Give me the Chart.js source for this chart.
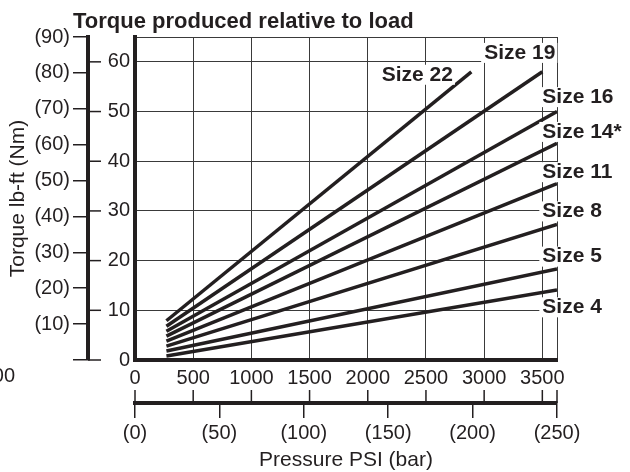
<!DOCTYPE html>
<html>
<head>
<meta charset="utf-8">
<script src="https://cdn.jsdelivr.net/npm/chart.js@4"></script>
<style>
  body { margin: 0; background: #fff; }
</style>
</head>
<body>
<canvas id="torqueChart" width="630" height="472"></canvas>
<script>
// one straight line per actuator size
const sizes = ['Size 4', 'Size 5', 'Size 8', 'Size 11', 'Size 14*', 'Size 16', 'Size 19', 'Size 22'];
const startPsi = [270, 270, 270, 270, 270, 270, 270, 270];
const startTorque = [0.8, 1.8, 2.8, 3.8, 4.8, 5.8, 6.8, 7.9];
const endPsi = [3626, 3626, 3626, 3626, 3626, 3626, 3500, 2890];
const endTorque = [14.1, 18.3, 27.3, 35.5, 43.6, 50.0, 58.0, 58.0];

// axis ticks (psi max = 250 bar)
const psiTicks = [0, 500, 1000, 1500, 2000, 2500, 3000, 3500, 3626];
const psiLabels = ['0', '500', '1000', '1500', '2000', '2500', '3000', '3500', ''];
const barTicks = [0, 50, 100, 150, 200, 250];
const barLabels = ['(0)', '(50)', '(100)', '(150)', '(200)', '(250)'];
const lbftTicks = [0, 10, 20, 30, 40, 50, 60, 65];
const lbftLabels = ['0', '10', '20', '30', '40', '50', '60', ''];
const nmTicks = [0, 10, 20, 30, 40, 50, 60, 70, 80, 90];
const nmLabels = ['', '(10)', '(20)', '(30)', '(40)', '(50)', '(60)', '(70)', '(80)', '(90)'];

// where each size name sits, in psi / lb-ft
const labelAt = [
    { x: 3500, y: 10.6 },
    { x: 3500, y: 20.8 },
    { x: 3500, y: 29.9 },
    { x: 3500, y: 37.8 },
    { x: 3500, y: 45.9 },
    { x: 3500, y: 52.9 },
    { x: 3000, y: 61.8 },
    { x: 2120, y: 57.4 }
];

const ink = '#231f20';
const family = '"Liberation Sans", Arial, Helvetica, sans-serif';
Chart.defaults.font.family = family;
Chart.defaults.font.size = 20;
Chart.defaults.color = ink;

const setTicks = (values) => (scale) => { scale.ticks = values.map(v => ({ value: v })); };

const extras = {
    id: 'extras',
    afterDraw(chart) {
        const { ctx, scales } = chart;
        ctx.save();
        ctx.strokeStyle = ink;
        ctx.lineWidth = 1.5;
        // lb-ft marks on the right side of the Nm axis line
        lbftTicks.slice(0, -1).forEach(v => {
            const y = scales.y.getPixelForValue(v);
            ctx.beginPath();
            ctx.moveTo(scales.nm.right, y);
            ctx.lineTo(scales.nm.right + 13, y);
            ctx.stroke();
        });
        // psi marks standing on the bar axis line
        psiTicks.forEach(v => {
            const x = scales.x.getPixelForValue(v);
            ctx.beginPath();
            ctx.moveTo(x, scales.bar.top);
            ctx.lineTo(x, scales.bar.top - 13);
            ctx.stroke();
        });
        // size names on white patches
        ctx.font = 'bold 21px ' + family;
        ctx.textBaseline = 'middle';
        sizes.forEach((name, i) => {
            const x = scales.x.getPixelForValue(labelAt[i].x);
            const y = scales.y.getPixelForValue(labelAt[i].y);
            const w = ctx.measureText(name).width;
            ctx.fillStyle = '#fff';
            ctx.fillRect(x - 3, y - 10, w + 5, 20);
            ctx.fillStyle = ink;
            ctx.fillText(name, x, y);
        });
        // chart title
        ctx.textBaseline = 'alphabetic';
        ctx.font = 'bold 22px ' + family;
        ctx.fillText('Torque produced relative to load', 73, 28);
        // cut-off label at the left edge
        ctx.font = '20px ' + family;
        ctx.textAlign = 'right';
        ctx.textBaseline = 'middle';
        ctx.fillText('00', 15, 376);
        ctx.restore();
    }
};

const ctx = document.getElementById('torqueChart').getContext('2d');
new Chart(ctx, {
    type: 'line',
    data: {
        datasets: sizes.map((name, i) => ({
            label: name,
            data: [{ x: startPsi[i], y: startTorque[i] }, { x: endPsi[i], y: endTorque[i] }],
            borderColor: ink,
            borderWidth: 3.5,
            pointRadius: 0,
            fill: false,
            tension: 0
        }))
    },
    options: {
        responsive: false,
        animation: false,
        events: [],
        layout: { padding: { top: 37, right: 73, bottom: 0, left: 0 } },
        plugins: {
            legend: { display: false },
            tooltip: { enabled: false }
        },
        scales: {
            x: {
                type: 'linear',
                position: 'bottom',
                weight: 0,
                min: 0,
                max: 3626,
                afterBuildTicks: setTicks(psiTicks),
                afterFit: (s) => { s.height = 43; },
                ticks: { autoSkip: false, maxRotation: 0, minRotation: 0, padding: 6, callback: (v, i) => psiLabels[i] },
                grid: { color: '#3a3a3a', lineWidth: 1, drawTicks: false },
                border: { color: ink, width: 4 }
            },
            bar: {
                type: 'linear',
                position: 'bottom',
                weight: 1,
                min: 0,
                max: 250,
                afterBuildTicks: setTicks(barTicks),
                afterFit: (s) => { s.height = 69; },
                ticks: { autoSkip: false, maxRotation: 0, minRotation: 0, padding: 3, callback: (v, i) => barLabels[i] },
                grid: { drawOnChartArea: false, tickLength: 15, color: ink, lineWidth: 1.5 },
                border: { color: ink, width: 4 },
                title: { display: true, text: 'Pressure PSI (bar)', font: { size: 21 }, padding: { top: 0, bottom: -1 } }
            },
            y: {
                type: 'linear',
                position: 'left',
                weight: 0,
                min: 0,
                max: 65,
                afterBuildTicks: setTicks(lbftTicks),
                afterFit: (s) => { s.width = 47; },
                ticks: { autoSkip: false, padding: 5, callback: (v, i) => lbftLabels[i] },
                grid: { color: '#3a3a3a', lineWidth: 1, drawTicks: false },
                border: { color: ink, width: 4 }
            },
            nm: {
                type: 'linear',
                position: 'left',
                weight: 1,
                min: 0,
                max: 90,
                afterBuildTicks: setTicks(nmTicks),
                afterFit: (s) => { s.width = 88; },
                ticks: { autoSkip: false, padding: 3, callback: (v, i) => nmLabels[i] },
                grid: { drawOnChartArea: false, tickLength: 15, color: ink, lineWidth: 1.5 },
                border: { color: ink, width: 4 },
                title: { display: true, text: 'Torque lb-ft (Nm)', font: { size: 21 }, padding: { top: 6, bottom: 0 } }
            }
        }
    },
    plugins: [extras]
});
</script>
</body>
</html>
